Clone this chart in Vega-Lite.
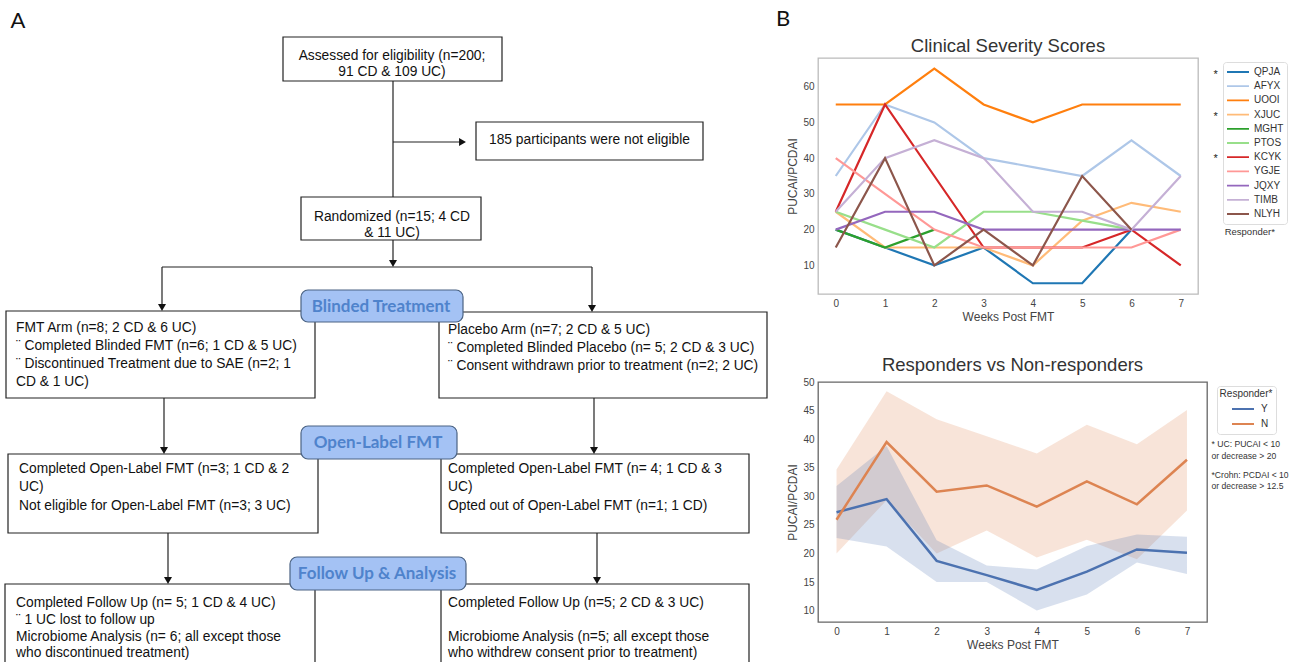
{
  "$schema": "https://vega.github.io/schema/vega-lite/v6.json",
  "padding": 0,
  "bounds": "flush",
  "spacing": 0,
  "background": "white",
  "config": {
    "font": "Liberation Sans",
    "view": {"stroke": null},
    "axis": {"ticks": false, "domain": false, "grid": false, "labelFontSize": 10, "labelColor": "#444", "titleFontSize": 12, "titleColor": "#444", "titleFontWeight": "normal", "labelPadding": 4, "titlePadding": 3, "labelOverlap": false},
    "legend": {"symbolType": "stroke", "labelFontSize": 10, "labelColor": "#333", "titleFontSize": 10, "titleFontWeight": "normal", "titleColor": "#333", "strokeColor": "#ddd", "padding": 3, "cornerRadius": 3, "fillColor": "white", "symbolStrokeWidth": 1.8, "symbolSize": 484, "symbolOpacity": 1, "clipHeight": 14, "rowPadding": 0.2, "labelOffset": 4},
    "title": {"fontSize": 18.5, "fontWeight": "normal", "color": "#333", "offset": 3, "anchor": "middle"}
  },
  "datasets": {
    "page": [{"x1": 0, "x2": 818, "y1": 0, "y2": 662}],
    "boxes": [
      {"x1": 283, "x2": 502, "y1": 37, "y2": 81},
      {"x1": 476, "x2": 703, "y1": 122, "y2": 160},
      {"x1": 301, "x2": 481, "y1": 197, "y2": 240},
      {"x1": 6, "x2": 315, "y1": 311, "y2": 398},
      {"x1": 439, "x2": 767, "y1": 312, "y2": 398},
      {"x1": 8, "x2": 318, "y1": 454, "y2": 533},
      {"x1": 441, "x2": 749, "y1": 454, "y2": 533},
      {"x1": 5, "x2": 315, "y1": 584, "y2": 672},
      {"x1": 441, "x2": 749, "y1": 584, "y2": 672}
    ],
    "rules": [
      {"x1": 393, "y1": 81, "x2": 393, "y2": 197},
      {"x1": 393, "y1": 142, "x2": 460, "y2": 142},
      {"x1": 393, "y1": 240, "x2": 393, "y2": 262},
      {"x1": 162, "y1": 267, "x2": 592, "y2": 267},
      {"x1": 162, "y1": 267, "x2": 162, "y2": 305},
      {"x1": 592, "y1": 267, "x2": 592, "y2": 305},
      {"x1": 164, "y1": 398, "x2": 164, "y2": 448},
      {"x1": 594, "y1": 398, "x2": 594, "y2": 448},
      {"x1": 168, "y1": 533, "x2": 168, "y2": 578},
      {"x1": 597, "y1": 533, "x2": 597, "y2": 578}
    ],
    "arrowsDown": [
      {"x": 393, "y": 263.5}, {"x": 162, "y": 307.5}, {"x": 592, "y": 308.5},
      {"x": 164, "y": 450.5}, {"x": 594, "y": 450.5}, {"x": 168, "y": 580.5}, {"x": 597, "y": 580.5}
    ],
    "arrowsRight": [{"x": 462.5, "y": 142}],
    "pills": [
      {"x1": 301, "x2": 463, "y1": 290, "y2": 322, "cx": 381, "cy": 306.5, "t": "Blinded Treatment"},
      {"x1": 301, "x2": 457, "y1": 426, "y2": 459, "cx": 378, "cy": 443, "t": "Open-Label FMT"},
      {"x1": 290, "x2": 466, "y1": 557, "y2": 590, "cx": 377, "cy": 574, "t": "Follow Up & Analysis"}
    ],
    "ctext": [
      {"x": 392, "y": 56, "t": "Assessed for eligibility (n=200;"},
      {"x": 392, "y": 72, "t": "91 CD & 109 UC)"},
      {"x": 392, "y": 217, "t": "Randomized (n=15; 4 CD"},
      {"x": 392, "y": 233, "t": "& 11 UC)"}
    ],
    "ltext": [
      {"x": 489, "y": 140, "t": "185 participants were not eligible"},
      {"x": 16, "y": 328, "t": "FMT Arm (n=8; 2 CD & 6 UC)"},
      {"x": 16, "y": 346, "t": "¨ Completed Blinded FMT (n=6; 1 CD & 5 UC)"},
      {"x": 16, "y": 364, "t": "¨ Discontinued Treatment due to SAE (n=2; 1"},
      {"x": 16, "y": 382, "t": "CD & 1 UC)"},
      {"x": 448, "y": 330, "t": "Placebo Arm (n=7; 2 CD & 5 UC)"},
      {"x": 448, "y": 348, "t": "¨ Completed Blinded Placebo (n= 5; 2 CD & 3 UC)"},
      {"x": 448, "y": 366, "t": "¨ Consent withdrawn prior to treatment (n=2; 2 UC)"},
      {"x": 19, "y": 469, "t": "Completed Open-Label FMT (n=3; 1 CD & 2"},
      {"x": 19, "y": 487, "t": "UC)"},
      {"x": 19, "y": 506, "t": "Not eligible for Open-Label FMT (n=3; 3 UC)"},
      {"x": 448, "y": 469, "t": "Completed Open-Label FMT (n= 4; 1 CD & 3"},
      {"x": 448, "y": 487, "t": "UC)"},
      {"x": 448, "y": 506, "t": "Opted out of Open-Label FMT (n=1; 1 CD)"},
      {"x": 16, "y": 603, "t": "Completed Follow Up (n= 5; 1 CD & 4 UC)"},
      {"x": 16, "y": 620, "t": "¨ 1 UC lost to follow up"},
      {"x": 16, "y": 637, "t": "Microbiome Analysis (n= 6; all except those"},
      {"x": 16, "y": 653, "t": "who discontinued treatment)"},
      {"x": 448, "y": 603, "t": "Completed Follow Up (n=5; 2 CD & 3 UC)"},
      {"x": 448, "y": 637, "t": "Microbiome Analysis (n=5; all except those"},
      {"x": 448, "y": 653, "t": "who withdrew consent prior to treatment)"}
    ],
    "panel": [
      {"x": 18, "y": 21, "t": "A"},
      {"x": 783, "y": 19, "t": "B"}
    ],
    "sev": [
      {"id": "QPJA", "week": 0, "score": 20}, {"id": "QPJA", "week": 1, "score": 15}, {"id": "QPJA", "week": 2, "score": 10}, {"id": "QPJA", "week": 3, "score": 15}, {"id": "QPJA", "week": 4, "score": 5}, {"id": "QPJA", "week": 5, "score": 5}, {"id": "QPJA", "week": 6, "score": 20},
      {"id": "AFYX", "week": 0, "score": 35}, {"id": "AFYX", "week": 1, "score": 55}, {"id": "AFYX", "week": 2, "score": 50}, {"id": "AFYX", "week": 3, "score": 40}, {"id": "AFYX", "week": 4, "score": 37.5}, {"id": "AFYX", "week": 5, "score": 35}, {"id": "AFYX", "week": 6, "score": 45}, {"id": "AFYX", "week": 7, "score": 35},
      {"id": "UOOI", "week": 0, "score": 55}, {"id": "UOOI", "week": 1, "score": 55}, {"id": "UOOI", "week": 2, "score": 65}, {"id": "UOOI", "week": 3, "score": 55}, {"id": "UOOI", "week": 4, "score": 50}, {"id": "UOOI", "week": 5, "score": 55}, {"id": "UOOI", "week": 6, "score": 55}, {"id": "UOOI", "week": 7, "score": 55},
      {"id": "XJUC", "week": 0, "score": 25}, {"id": "XJUC", "week": 1, "score": 15}, {"id": "XJUC", "week": 2, "score": 15}, {"id": "XJUC", "week": 3, "score": 15}, {"id": "XJUC", "week": 4, "score": 10}, {"id": "XJUC", "week": 5, "score": 22.5}, {"id": "XJUC", "week": 6, "score": 27.5}, {"id": "XJUC", "week": 7, "score": 25},
      {"id": "MGHT", "week": 0, "score": 20}, {"id": "MGHT", "week": 1, "score": 15}, {"id": "MGHT", "week": 2, "score": 20},
      {"id": "PTOS", "week": 0, "score": 25}, {"id": "PTOS", "week": 1, "score": 20}, {"id": "PTOS", "week": 2, "score": 15}, {"id": "PTOS", "week": 3, "score": 25}, {"id": "PTOS", "week": 4, "score": 25}, {"id": "PTOS", "week": 5, "score": 22.5}, {"id": "PTOS", "week": 6, "score": 20},
      {"id": "KCYK", "week": 0, "score": 25}, {"id": "KCYK", "week": 1, "score": 55}, {"id": "KCYK", "week": 2, "score": 35}, {"id": "KCYK", "week": 3, "score": 15}, {"id": "KCYK", "week": 4, "score": 15}, {"id": "KCYK", "week": 5, "score": 15}, {"id": "KCYK", "week": 6, "score": 20}, {"id": "KCYK", "week": 7, "score": 10},
      {"id": "YGJE", "week": 0, "score": 40}, {"id": "YGJE", "week": 1, "score": 30}, {"id": "YGJE", "week": 2, "score": 20}, {"id": "YGJE", "week": 3, "score": 15}, {"id": "YGJE", "week": 4, "score": 15}, {"id": "YGJE", "week": 5, "score": 15}, {"id": "YGJE", "week": 6, "score": 15}, {"id": "YGJE", "week": 7, "score": 20},
      {"id": "JQXY", "week": 0, "score": 20}, {"id": "JQXY", "week": 1, "score": 25}, {"id": "JQXY", "week": 2, "score": 25}, {"id": "JQXY", "week": 3, "score": 20}, {"id": "JQXY", "week": 4, "score": 20}, {"id": "JQXY", "week": 5, "score": 20}, {"id": "JQXY", "week": 6, "score": 20}, {"id": "JQXY", "week": 7, "score": 20},
      {"id": "TIMB", "week": 0, "score": 25}, {"id": "TIMB", "week": 1, "score": 40}, {"id": "TIMB", "week": 2, "score": 45}, {"id": "TIMB", "week": 3, "score": 40}, {"id": "TIMB", "week": 4, "score": 25}, {"id": "TIMB", "week": 5, "score": 25}, {"id": "TIMB", "week": 6, "score": 20}, {"id": "TIMB", "week": 7, "score": 35},
      {"id": "NLYH", "week": 0, "score": 15}, {"id": "NLYH", "week": 1, "score": 40}, {"id": "NLYH", "week": 2, "score": 10}, {"id": "NLYH", "week": 3, "score": 20}, {"id": "NLYH", "week": 4, "score": 10}, {"id": "NLYH", "week": 5, "score": 35}, {"id": "NLYH", "week": 6, "score": 20}
    ],
    "sevNotes": [
      {"week": 7.71, "score": 63.3, "t": "*"},
      {"week": 7.71, "score": 51.5, "t": "*"},
      {"week": 7.71, "score": 39.7, "t": "*"}
    ],
    "sevTitle": [
      {"week": 8.4, "score": 19.2, "t": "Responder*"}
    ],
    "resp": [
      {"group": "Y", "week": 0, "mean": 27.2, "lo": 22.7, "hi": 31.8},
      {"group": "Y", "week": 1, "mean": 29.5, "lo": 21.2, "hi": 38.8},
      {"group": "Y", "week": 2, "mean": 18.7, "lo": 15.0, "hi": 22.3},
      {"group": "Y", "week": 3, "mean": 16.2, "lo": 15.0, "hi": 17.9},
      {"group": "Y", "week": 4, "mean": 13.6, "lo": 10.0, "hi": 17.2},
      {"group": "Y", "week": 5, "mean": 16.8, "lo": 12.8, "hi": 21.3},
      {"group": "Y", "week": 6, "mean": 20.7, "lo": 18.4, "hi": 23.3},
      {"group": "Y", "week": 7, "mean": 20.1, "lo": 16.4, "hi": 22.9},
      {"group": "N", "week": 0, "mean": 25.9, "lo": 20.0, "hi": 34.7},
      {"group": "N", "week": 1, "mean": 39.5, "lo": 29.3, "hi": 48.4},
      {"group": "N", "week": 2, "mean": 30.8, "lo": 20.0, "hi": 43.5},
      {"group": "N", "week": 3, "mean": 31.9, "lo": 24.0, "hi": 40.5},
      {"group": "N", "week": 4, "mean": 28.2, "lo": 19.3, "hi": 37.5},
      {"group": "N", "week": 5, "mean": 32.6, "lo": 22.4, "hi": 42.5},
      {"group": "N", "week": 6, "mean": 28.6, "lo": 19.0, "hi": 39.1},
      {"group": "N", "week": 7, "mean": 36.4, "lo": 27.5, "hi": 45.1}
    ],
    "respNotes": [
      {"week": 7.49, "val": 39.1, "t": "* UC: PUCAI < 10"},
      {"week": 7.49, "val": 37.0, "t": "\u00a0\u00a0or decrease > 20"},
      {"week": 7.49, "val": 33.7, "t": "*Crohn: PCDAI < 10"},
      {"week": 7.49, "val": 31.8, "t": "\u00a0\u00a0or decrease > 12.5"}
    ]
  },
  "hconcat": [
    {
      "width": 818,
      "height": 604,
      "layer": [
        {
          "data": {"name": "page"},
          "mark": {"type": "rect", "fill": "white"},
          "encoding": {
            "x": {"field": "x1", "type": "quantitative", "scale": {"domain": [0, 818], "nice": false, "zero": false}, "axis": null},
            "x2": {"field": "x2"},
            "y": {"field": "y1", "type": "quantitative", "scale": {"domain": [58, 662], "reverse": true, "nice": false, "zero": false}, "axis": null},
            "y2": {"field": "y2"}
          }
        },
        {
          "data": {"name": "rules"},
          "mark": {"type": "rule", "stroke": "#222", "strokeWidth": 1.2},
          "encoding": {
            "x": {"field": "x1", "type": "quantitative"},
            "x2": {"field": "x2"},
            "y": {"field": "y1", "type": "quantitative"},
            "y2": {"field": "y2"}
          }
        },
        {
          "data": {"name": "boxes"},
          "mark": {"type": "rect", "fill": "white", "stroke": "#222", "strokeWidth": 1.2},
          "encoding": {
            "x": {"field": "x1", "type": "quantitative"},
            "x2": {"field": "x2"},
            "y": {"field": "y1", "type": "quantitative"},
            "y2": {"field": "y2"}
          }
        },
        {
          "data": {"name": "pills"},
          "mark": {"type": "rect", "fill": "#a4c2f4", "stroke": "#4b6383", "strokeWidth": 1.2, "cornerRadius": 7},
          "encoding": {
            "x": {"field": "x1", "type": "quantitative"},
            "x2": {"field": "x2"},
            "y": {"field": "y1", "type": "quantitative"},
            "y2": {"field": "y2"}
          }
        },
        {
          "data": {"name": "arrowsDown"},
          "mark": {"type": "point", "shape": "triangle-down", "filled": true, "color": "#111", "size": 64, "opacity": 1},
          "encoding": {
            "x": {"field": "x", "type": "quantitative"},
            "y": {"field": "y", "type": "quantitative"}
          }
        },
        {
          "data": {"name": "arrowsRight"},
          "mark": {"type": "point", "shape": "triangle-right", "filled": true, "color": "#111", "size": 64, "opacity": 1},
          "encoding": {
            "x": {"field": "x", "type": "quantitative"},
            "y": {"field": "y", "type": "quantitative"}
          }
        },
        {
          "data": {"name": "pills"},
          "mark": {"type": "text", "font": "Lato", "fontWeight": "bold", "fontSize": 17, "color": "#4f83cc", "align": "center", "baseline": "middle"},
          "encoding": {
            "x": {"field": "cx", "type": "quantitative"},
            "y": {"field": "cy", "type": "quantitative"},
            "text": {"field": "t"}
          }
        },
        {
          "data": {"name": "ctext"},
          "mark": {"type": "text", "fontSize": 13.8, "color": "#111", "align": "center", "baseline": "middle"},
          "encoding": {
            "x": {"field": "x", "type": "quantitative"},
            "y": {"field": "y", "type": "quantitative"},
            "text": {"field": "t"}
          }
        },
        {
          "data": {"name": "ltext"},
          "mark": {"type": "text", "fontSize": 13.8, "color": "#111", "align": "left", "baseline": "middle"},
          "encoding": {
            "x": {"field": "x", "type": "quantitative"},
            "y": {"field": "y", "type": "quantitative"},
            "text": {"field": "t"}
          }
        },
        {
          "data": {"name": "panel"},
          "mark": {"type": "text", "fontSize": 22, "font": "Lato", "color": "#111", "align": "center", "baseline": "middle"},
          "encoding": {
            "x": {"field": "x", "type": "quantitative"},
            "y": {"field": "y", "type": "quantitative"},
            "text": {"field": "t"}
          }
        }
      ]
    },
    {
      "vconcat": [
        {
          "width": 380,
          "height": 236,
          "title": {"text": "Clinical Severity Scores"},
          "view": {"stroke": "#bbb", "strokeWidth": 1.3},
          "layer": [
            {
              "data": {"name": "sev"},
              "mark": {"type": "line", "strokeWidth": 2.2},
              "encoding": {
                "x": {"field": "week", "type": "quantitative", "scale": {"domain": [-0.36, 7.35], "nice": false, "zero": false}, "axis": {"values": [0, 1, 2, 3, 4, 5, 6, 7], "format": "d", "title": "Weeks Post FMT"}},
                "y": {"field": "score", "type": "quantitative", "scale": {"domain": [2, 68], "nice": false, "zero": false}, "axis": {"values": [10, 20, 30, 40, 50, 60], "title": "PUCAI/PCDAI"}},
                "color": {
                  "field": "id", "type": "nominal",
                  "scale": {
                    "domain": ["QPJA", "AFYX", "UOOI", "XJUC", "MGHT", "PTOS", "KCYK", "YGJE", "JQXY", "TIMB", "NLYH"],
                    "range": ["#1f77b4", "#aec7e8", "#ff7f0e", "#ffbb78", "#2ca02c", "#98df8a", "#d62728", "#ff9896", "#9467bd", "#c5b0d5", "#8c564b"]
                  },
                  "legend": {"orient": "none", "legendX": 405, "legendY": 4, "title": null}
                }
              }
            },
            {
              "data": {"name": "sevNotes"},
              "mark": {"type": "text", "fontSize": 11, "color": "#222", "align": "center", "baseline": "middle"},
              "encoding": {
                "x": {"field": "week", "type": "quantitative"},
                "y": {"field": "score", "type": "quantitative"},
                "text": {"field": "t"}
              }
            },
            {
              "data": {"name": "sevTitle"},
              "mark": {"type": "text", "fontSize": 9.5, "color": "#333", "align": "center", "baseline": "middle"},
              "encoding": {
                "x": {"field": "week", "type": "quantitative"},
                "y": {"field": "score", "type": "quantitative"},
                "text": {"field": "t"}
              }
            }
          ]
        },
        {
          "width": 389,
          "height": 240,
          "title": {"text": "Responders vs Non-responders"},
          "view": {"stroke": "#666", "strokeWidth": 1.3},
          "encoding": {
            "x": {"field": "week", "type": "quantitative", "scale": {"domain": [-0.37, 7.4], "nice": false, "zero": false}, "axis": {"values": [0, 1, 2, 3, 4, 5, 6, 7], "format": "d", "title": "Weeks Post FMT"}},
            "y": {"field": "mean", "type": "quantitative", "scale": {"domain": [8, 50], "nice": false, "zero": false}, "axis": {"values": [10, 15, 20, 25, 30, 35, 40, 45, 50], "title": "PUCAI/PCDAI"}}
          },
          "layer": [
            {
              "data": {"name": "resp"},
              "transform": [{"filter": "datum.group === 'N'"}],
              "mark": {"type": "area", "fill": "#dd8452", "opacity": 0.22},
              "encoding": {
                "y": {"field": "lo", "type": "quantitative"},
                "y2": {"field": "hi"}
              }
            },
            {
              "data": {"name": "resp"},
              "transform": [{"filter": "datum.group === 'Y'"}],
              "mark": {"type": "area", "fill": "#4c72b0", "opacity": 0.22},
              "encoding": {
                "y": {"field": "lo", "type": "quantitative"},
                "y2": {"field": "hi"}
              }
            },
            {
              "data": {"name": "resp"},
              "mark": {"type": "line", "strokeWidth": 2.5},
              "encoding": {
                "color": {"field": "group", "type": "nominal", "scale": {"domain": ["Y", "N"], "range": ["#4c72b0", "#dd8452"]}, "legend": {"orient": "none", "legendX": 399, "legendY": 4, "title": "Responder*", "titleAnchor": "middle", "titlePadding": 3, "rowPadding": 1, "symbolOffset": 7, "labelOffset": 6}}
              }
            },
            {
              "data": {"name": "respNotes"},
              "mark": {"type": "text", "fontSize": 8.6, "color": "#333", "align": "left", "baseline": "middle"},
              "encoding": {
                "y": {"field": "val", "type": "quantitative"},
                "text": {"field": "t"}
              }
            }
          ]
        }
      ],
      "spacing": 88,
      "bounds": "flush",
      "resolve": {"scale": {"color": "independent", "x": "independent", "y": "independent"}, "legend": {"color": "independent"}}
    }
  ]
}
